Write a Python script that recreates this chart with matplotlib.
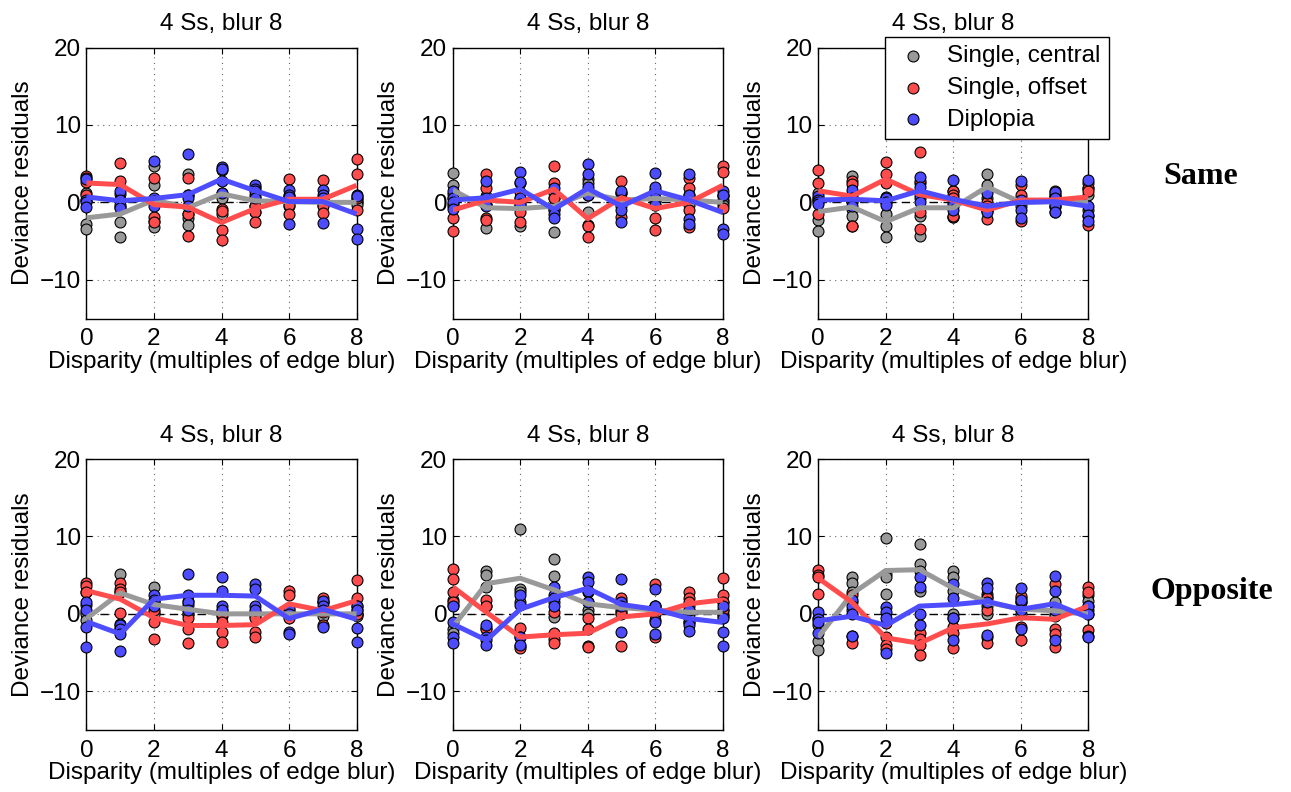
import matplotlib
matplotlib.use("Agg")
import matplotlib.pyplot as plt
import numpy as np

plt.rcParams['font.family'] = ['Liberation Sans', 'DejaVu Sans']

disparity = [0, 1, 2, 3, 4, 5, 6, 7, 8]
panel_title = "4 Ss, blur 8"
series_names = ["Single, central", "Single, offset", "Diplopia"]
row_names = ["Same", "Opposite"]
xticks = [0, 2, 4, 6, 8]
yticks = [-10, 0, 10, 20]

# ---------------- Same, panel 1 ----------------
same1_central_pts = [[1.2, 0.3, -2.8, -3.4], [0.3, -0.6, -2.5, -4.5], [4.7, 2.2, -2.4, -3.2],
                     [3.6, -1.5, -2.0, -2.9], [4.2, 1.2, 0.5, -1.5], [2.0, 0.5, -0.5, -1.2],
                     [0.8, 0.2, 0.0, -0.5], [0.5, 0.1, 0.0, -0.4], [0.4, 0.0, 0.0, -0.3]]
same1_central_line = [-2.0, -1.5, 0.3, -0.7, 1.1, 0.2, 0.1, 0.0, 0.0]
same1_offset_pts = [[3.4, 3.1, 2.6, 0.9], [5.1, 2.7, 1.1, 0.3], [3.2, 0.0, -1.9, -2.5],
                    [3.1, 1.0, -1.5, -4.4], [-0.8, -1.1, -3.6, -4.9], [1.0, -0.5, -1.3, -2.5],
                    [3.0, 0.3, -0.3, -1.5], [2.9, 0.5, -0.5, -1.4], [5.6, 3.7, 0.5, -1.0]]
same1_offset_line = [2.5, 2.3, -0.3, -0.6, -2.6, -0.8, 0.4, 0.4, 2.2]
same1_diplopia_pts = [[3.0, 0.3, 0.1, -0.6], [1.5, 0.3, -0.3, -0.7], [5.4, 0.5, 0.2, -0.5],
                      [6.2, 1.0, 0.5, -0.5], [4.6, 4.3, 2.8, 1.2], [2.3, 1.7, 1.5, 0.5],
                      [1.6, 0.9, 0.7, -2.8], [1.6, 1.0, 0.5, -2.7], [1.0, 0.8, -3.4, -4.7]]
same1_diplopia_line = [0.7, 0.2, 0.5, 1.0, 3.0, 1.5, 0.1, 0.1, -1.5]

# ---------------- Same, panel 2 ----------------
same2_central_pts = [[3.8, 2.3, 0.5, -0.2], [0.8, -0.3, -0.3, -3.3], [0.5, -0.3, -0.5, -3.0],
                     [1.2, 0.5, -0.5, -3.8], [3.0, 2.5, 1.0, -1.3], [1.2, 0.5, 0.0, -0.5],
                     [1.6, 0.5, 0.2, -0.3], [1.0, 0.5, 0.0, -0.3], [0.8, 0.3, 0.0, -0.3]]
same2_central_line = [1.6, -0.7, -0.8, -0.5, 1.2, 0.3, 0.5, 0.3, 0.0]
same2_offset_pts = [[1.1, -0.5, -2.0, -3.7], [3.7, 1.8, -2.0, -2.3], [2.5, 1.3, -1.3, -2.5],
                    [4.7, 2.5, 0.5, -0.8], [1.0, -2.9, -3.1, -4.5], [2.8, 1.2, 0.3, -1.9],
                    [1.5, 0.3, -2.0, -3.6], [3.1, 1.8, -1.0, -3.2], [4.7, 3.9, 1.0, -0.7]]
same2_offset_line = [-1.0, 0.3, 0.0, 1.7, -2.1, 0.6, -0.8, 0.0, 2.2]
same2_diplopia_pts = [[1.5, 0.5, 0.0, -0.8], [2.8, 0.5, -0.3, -0.5], [3.9, 2.6, 0.5, -0.2],
                      [1.8, -1.0, -1.5, -2.0], [5.0, 3.6, 2.0, 1.0], [1.5, 0.3, -1.0, -2.6],
                      [3.8, 2.0, 0.5, -0.3], [3.6, 1.0, -2.2, -2.8], [1.5, 1.0, -3.5, -4.1]]
same2_diplopia_line = [0.3, 0.6, 1.7, -0.9, 1.8, -0.5, 1.5, 0.3, -1.3]

# ---------------- Same, panel 3 ----------------
same3_central_pts = [[1.2, 0.3, -2.3, -3.7], [3.4, -0.8, -1.8, -3.0], [0.0, -1.5, -3.1, -4.5],
                     [2.5, 1.0, -1.8, -4.4], [1.5, -0.5, -1.9, -1.9], [3.7, 2.3, 1.5, 0.5],
                     [0.5, 0.0, 0.0, -0.5], [1.0, 0.5, -0.5, -0.6], [1.8, 1.0, -1.0, -1.8]]
same3_central_line = [-1.2, -0.6, -2.5, -0.7, -0.7, 2.0, 0.0, 0.1, 0.0]
same3_offset_pts = [[4.2, 2.5, 0.5, -1.5], [2.8, 2.4, 1.0, -3.1], [5.2, 3.6, 2.5, 0.5],
                    [6.5, 2.7, -1.2, -3.5], [1.5, 1.0, 0.5, -1.8], [0.0, -0.5, -1.1, -2.2],
                    [2.3, 1.0, 0.2, -2.4], [1.5, 1.0, 0.5, -1.2], [2.5, 1.8, 1.5, -2.9]]
same3_offset_line = [1.5, 0.8, 3.0, 1.0, 0.3, -1.0, 0.3, 0.3, 0.7]
same3_diplopia_pts = [[0.8, 0.3, 0.0, -0.2], [1.6, 0.5, 0.0, -0.5], [0.7, 0.5, 0.0, -0.4],
                      [3.3, 2.0, 0.5, 0.1], [2.9, 0.0, -0.3, -1.0], [1.2, -0.8, -1.0, -1.2],
                      [2.8, 0.3, -1.0, -2.0], [1.3, 0.5, -0.3, -1.2], [2.9, -0.5, -1.6, -2.4]]
same3_diplopia_line = [0.3, 0.4, 0.2, 1.5, 0.4, -0.5, 0.0, 0.1, -0.5]

# ---------------- Opposite, panel 1 ----------------
opp1_central_pts = [[2.8, 0.3, 0.0, -0.8], [5.2, 2.8, -1.3, -1.8], [3.5, 1.5, 0.2, 0.0],
                    [1.7, 1.2, 0.5, 0.0], [0.5, 0.0, 0.0, -0.3], [0.3, 0.0, 0.0, -0.3],
                    [0.3, 0.0, 0.0, -0.3], [1.5, 0.3, 0.0, -0.3], [0.5, 0.0, 0.0, -0.3]]
opp1_central_line = [-0.6, 2.7, 1.2, 0.6, 0.0, 0.0, 0.0, 0.0, 0.0]
opp1_offset_pts = [[4.0, 3.6, 2.8, 1.2], [4.0, 3.2, 2.8, 0.1], [1.0, 0.5, -1.0, -3.3],
                   [0.0, -0.5, -2.0, -3.8], [0.0, -1.0, -2.3, -3.6], [0.0, -0.5, -2.3, -3.0],
                   [2.9, 2.5, 0.5, -0.5], [2.0, 1.5, 0.2, -1.5], [4.4, 2.1, 1.0, 0.0]]
opp1_offset_line = [3.0, 1.9, -0.5, -1.5, -1.5, -1.4, 1.3, 0.4, 1.7]
opp1_diplopia_pts = [[1.5, 0.5, -1.7, -4.3], [-1.5, -2.0, -2.6, -4.8], [2.4, 1.8, 1.5, 1.0],
                     [5.1, 2.5, 1.5, 0.5], [4.8, 2.9, 1.0, 0.5], [3.8, 3.2, 1.0, 0.5],
                     [0.8, 0.0, -2.4, -2.6], [1.7, 1.0, 0.5, -1.7], [1.0, 0.5, -1.8, -3.6]]
opp1_diplopia_line = [-1.0, -2.6, 1.9, 2.4, 2.4, 2.3, -0.6, 0.6, -0.7]

# ---------------- Opposite, panel 2 ----------------
opp2_central_pts = [[1.8, 1.2, -1.9, -2.5], [5.5, 5.0, 3.5, 1.0], [10.9, 3.2, 2.8, 1.5],
                    [7.1, 4.9, 1.5, -0.4], [2.8, 1.5, 0.5, 0.0], [1.7, 1.0, 0.5, 0.3],
                    [1.0, 0.5, 0.3, 0.0], [1.0, 0.5, 0.0, -0.5], [1.5, 0.5, 0.0, -0.3]]
opp2_central_line = [-1.7, 3.9, 4.6, 3.1, 1.3, 0.8, 0.5, 0.2, 0.2]
opp2_offset_pts = [[5.8, 4.5, 2.8, 1.5], [1.8, 1.0, -1.8, -2.0], [-1.8, -3.0, -4.2, -4.4],
                   [0.3, -2.5, -3.2, -3.8], [-0.5, -2.0, -4.1, -4.3], [2.1, 1.0, 0.0, -4.2],
                   [3.9, 1.0, -0.8, -3.0], [2.8, 2.0, 1.5, -1.0], [4.6, 2.5, 1.5, 0.5]]
opp2_offset_line = [3.5, 0.2, -3.0, -2.7, -2.5, -0.4, 0.0, 1.3, 1.8]
opp2_diplopia_pts = [[1.0, -1.0, -3.0, -3.8], [-1.5, -3.0, -3.4, -4.0], [2.5, 1.2, -3.0, -4.0],
                     [3.5, 2.5, 2.0, 1.0], [4.8, 4.1, 3.0, 1.5], [4.5, 1.5, 1.0, -2.4],
                     [3.2, 1.0, -1.0, -2.6], [0.5, -1.0, -1.5, -2.2], [1.0, -0.5, -2.4, -4.2]]
opp2_diplopia_line = [-1.3, -3.4, 0.6, 2.1, 3.3, 1.2, 0.6, -0.6, -1.1]

# ---------------- Opposite, panel 3 ----------------
opp3_central_pts = [[-0.5, -1.5, -3.5, -4.7], [4.7, 4.0, 2.8, 1.5], [9.8, 5.1, 4.8, 2.6],
                    [9.0, 6.5, 5.5, 3.0], [5.5, 4.8, 3.0, 0.0], [2.6, 2.2, 1.0, 0.0],
                    [2.0, 1.5, 0.5, 0.0], [1.5, 0.5, 0.0, -0.3], [2.5, 1.6, 0.5, 0.0]]
opp3_central_line = [-3.0, 2.6, 5.6, 5.7, 3.3, 1.5, 0.6, 0.4, 0.0]
opp3_offset_pts = [[5.6, 5.0, 4.8, 2.6], [2.5, 0.5, -2.9, -3.8], [-1.2, -3.0, -4.0, -4.5],
                   [-2.5, -3.2, -4.0, -5.3], [-0.5, -1.7, -2.5, -4.4], [2.0, 0.5, -3.0, -3.7],
                   [2.3, 1.5, -1.7, -3.4], [3.8, -2.0, -2.6, -4.3], [3.5, 2.8, 1.0, -2.1]]
opp3_offset_line = [4.6, 1.5, -3.1, -3.8, -1.8, -1.3, -0.5, -0.7, 1.0]
opp3_diplopia_pts = [[0.3, -0.7, -1.0, -2.5], [1.8, 1.0, 0.0, -2.8], [0.9, 0.3, -0.5, -5.0],
                     [4.7, 3.5, 0.0, -1.5], [3.8, 2.0, -0.5, -3.4], [4.0, 3.4, 1.5, -2.7],
                     [3.4, 1.8, 0.5, -2.0], [4.9, 2.9, 0.5, -3.4], [1.0, 0.0, -2.9, -3.0]]
opp3_diplopia_line = [-0.9, -0.3, -1.5, 1.0, 1.2, 1.6, 0.6, 1.3, -0.5]

panels = [
    [(same1_central_pts, same1_central_line), (same1_offset_pts, same1_offset_line), (same1_diplopia_pts, same1_diplopia_line)],
    [(same2_central_pts, same2_central_line), (same2_offset_pts, same2_offset_line), (same2_diplopia_pts, same2_diplopia_line)],
    [(same3_central_pts, same3_central_line), (same3_offset_pts, same3_offset_line), (same3_diplopia_pts, same3_diplopia_line)],
    [(opp1_central_pts, opp1_central_line), (opp1_offset_pts, opp1_offset_line), (opp1_diplopia_pts, opp1_diplopia_line)],
    [(opp2_central_pts, opp2_central_line), (opp2_offset_pts, opp2_offset_line), (opp2_diplopia_pts, opp2_diplopia_line)],
    [(opp3_central_pts, opp3_central_line), (opp3_offset_pts, opp3_offset_line), (opp3_diplopia_pts, opp3_diplopia_line)],
]

colors = [(0.6, 0.6, 0.6), (1.0, 0.3, 0.3), (0.3, 0.3, 1.0)]

W, H = 1291, 792
fig = plt.figure(figsize=(W / 100, H / 100), dpi=100)

lefts_px = [86.5, 452.7, 818.3]
tops_px = [47.5, 459.0]
w_px, h_px = 270.0, 271.0

FS = 17.5
axes = []
for r in range(2):
    for c in range(3):
        ax = fig.add_axes([lefts_px[c] / W, (H - tops_px[r] - h_px) / H, w_px / W, h_px / H])
        axes.append(ax)

for i, ax in enumerate(axes):
    ax.set_xlim(0, 8)
    ax.set_ylim(-15, 20)
    ax.set_xticks(xticks)
    ax.set_yticks(yticks)
    ax.grid(True, linestyle=(0, (1, 4)), color='0.4', linewidth=0.8)
    ax.set_axisbelow(True)
    ax.tick_params(direction='in', length=4, width=0.8, top=True, right=True,
                   labelsize=FS, pad=7)
    ax.tick_params(axis='y', pad=4)
    for s in ax.spines.values():
        s.set_linewidth(1.0)
    ax.plot([disparity[0], disparity[-1]], [0, 0], color='k', linestyle=(0, (6, 4)),
            linewidth=1.0, zorder=2)
    handles = []
    for k, (pts, line) in enumerate(panels[i]):
        xs = np.repeat(disparity, 4)
        ys = np.array(pts).ravel()
        h = ax.scatter(xs, ys, s=62, facecolor=colors[k], edgecolor='k', linewidth=0.8,
                       zorder=3 + k * 0.1, clip_on=False, label=series_names[k])
        handles.append(h)
    for k, (pts, line) in enumerate(panels[i]):
        ax.plot(disparity, line, color=colors[k], linewidth=3.6, zorder=5 + k * 0.1,
                solid_capstyle='butt')
    ax.set_title(panel_title, fontsize=FS, pad=12.5)
    ax.set_xlabel("Disparity (multiples of edge blur)", fontsize=FS, labelpad=0.5)
    ax.set_ylabel("Deviance residuals", fontsize=FS, labelpad=4)
    if i == 2:
        leg = ax.legend(handles=handles, loc='upper right', bbox_to_anchor=(1.075, 1.04),
                        borderaxespad=0, fontsize=FS, fancybox=False, framealpha=1,
                        edgecolor='k', handletextpad=0.6, labelspacing=0.4,
                        scatterpoints=1, handlelength=1.6, borderpad=0.35)
        leg.get_frame().set_linewidth(1.0)
        leg.set_zorder(10)

fig.text(1201 / W, 1 - 176 / H, row_names[0], fontsize=23, fontweight='bold',
         family='Liberation Serif', ha='center', va='center')
fig.text(1212 / W, 1 - 592 / H, row_names[1], fontsize=23, fontweight='bold',
         family='Liberation Serif', ha='center', va='center')

fig.savefig("out.png", dpi=100)
